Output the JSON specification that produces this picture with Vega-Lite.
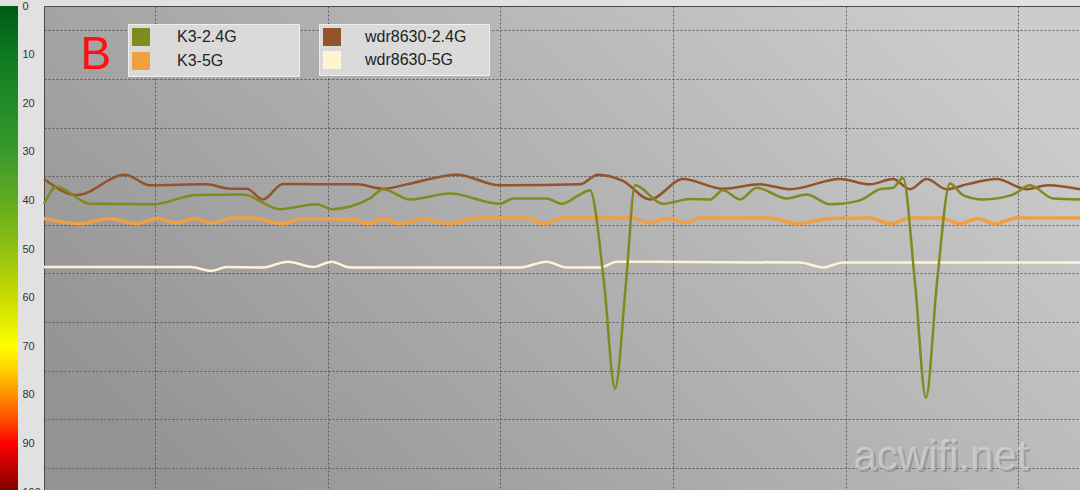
{
  "$schema": "https://vega.github.io/schema/vega-lite/v6.json",
  "background": "#e1e1e1",
  "padding": {"left": 0, "top": 0, "right": 0, "bottom": 0},
  "spacing": 26,
  "bounds": "flush",
  "datasets": {
    "bar": [{"lo": 0, "hi": 100}],
    "lines": [
      {"s": "K3-2.4G", "t": 0, "v": 40.7}, {"s": "K3-2.4G", "t": 7.4, "v": 37.2}, {"s": "K3-2.4G", "t": 26.6, "v": 40.7}, {"s": "K3-2.4G", "t": 63.1, "v": 40.8}, {"s": "K3-2.4G", "t": 88.4, "v": 38.9}, {"s": "K3-2.4G", "t": 115.2, "v": 38.8}, {"s": "K3-2.4G", "t": 136.7, "v": 41.8}, {"s": "K3-2.4G", "t": 157.9, "v": 40.8}, {"s": "K3-2.4G", "t": 166.6, "v": 41.8}, {"s": "K3-2.4G", "t": 188.8, "v": 39.6}, {"s": "K3-2.4G", "t": 196.3, "v": 37.7}, {"s": "K3-2.4G", "t": 212, "v": 39.8}, {"s": "K3-2.4G", "t": 235.1, "v": 38.6}, {"s": "K3-2.4G", "t": 264.1, "v": 40.7}, {"s": "K3-2.4G", "t": 271.6, "v": 39.6}, {"s": "K3-2.4G", "t": 291.1, "v": 39.6}, {"s": "K3-2.4G", "t": 299.8, "v": 40.7}, {"s": "K3-2.4G", "t": 310.4, "v": 38.8}, {"s": "K3-2.4G", "t": 316.2, "v": 37.9}, {"s": "K3-2.4G", "t": 324.3, "v": 56.8}, {"s": "K3-2.4G", "t": 330.7, "v": 78.7}, {"s": "K3-2.4G", "t": 337.1, "v": 56.8}, {"s": "K3-2.4G", "t": 342.3, "v": 36.9}, {"s": "K3-2.4G", "t": 358.5, "v": 40.7}, {"s": "K3-2.4G", "t": 374.1, "v": 39.7}, {"s": "K3-2.4G", "t": 385.7, "v": 39.8}, {"s": "K3-2.4G", "t": 393.2, "v": 37.9}, {"s": "K3-2.4G", "t": 403.1, "v": 39.8}, {"s": "K3-2.4G", "t": 412.8, "v": 37.4}, {"s": "K3-2.4G", "t": 430.1, "v": 39.6}, {"s": "K3-2.4G", "t": 441.7, "v": 38.8}, {"s": "K3-2.4G", "t": 455.2, "v": 40.8}, {"s": "K3-2.4G", "t": 472.6, "v": 40.0}, {"s": "K3-2.4G", "t": 484.2, "v": 37.7}, {"s": "K3-2.4G", "t": 491.7, "v": 37.4}, {"s": "K3-2.4G", "t": 497.5, "v": 35.4}, {"s": "K3-2.4G", "t": 504.4, "v": 56.8}, {"s": "K3-2.4G", "t": 510.8, "v": 80.6}, {"s": "K3-2.4G", "t": 517.2, "v": 56.8}, {"s": "K3-2.4G", "t": 524.7, "v": 36.5}, {"s": "K3-2.4G", "t": 532.2, "v": 38.9}, {"s": "K3-2.4G", "t": 543.8, "v": 39.8}, {"s": "K3-2.4G", "t": 561.2, "v": 38.8}, {"s": "K3-2.4G", "t": 571, "v": 36.9}, {"s": "K3-2.4G", "t": 584.4, "v": 39.6}, {"s": "K3-2.4G", "t": 600, "v": 39.8},
      {"s": "wdr8630-2.4G", "t": 0, "v": 35.6}, {"s": "wdr8630-2.4G", "t": 19.1, "v": 38.9}, {"s": "wdr8630-2.4G", "t": 46.9, "v": 34.7}, {"s": "wdr8630-2.4G", "t": 61.4, "v": 36.9}, {"s": "wdr8630-2.4G", "t": 94.2, "v": 36.7}, {"s": "wdr8630-2.4G", "t": 107.7, "v": 37.6}, {"s": "wdr8630-2.4G", "t": 117.4, "v": 37.6}, {"s": "wdr8630-2.4G", "t": 126.8, "v": 39.8}, {"s": "wdr8630-2.4G", "t": 138.4, "v": 36.6}, {"s": "wdr8630-2.4G", "t": 159.8, "v": 36.7}, {"s": "wdr8630-2.4G", "t": 181.3, "v": 36.7}, {"s": "wdr8630-2.4G", "t": 196.3, "v": 37.6}, {"s": "wdr8630-2.4G", "t": 210.1, "v": 36.7}, {"s": "wdr8630-2.4G", "t": 239, "v": 34.7}, {"s": "wdr8630-2.4G", "t": 264.1, "v": 36.9}, {"s": "wdr8630-2.4G", "t": 310.4, "v": 36.7}, {"s": "wdr8630-2.4G", "t": 320.8, "v": 34.7}, {"s": "wdr8630-2.4G", "t": 335.3, "v": 36.0}, {"s": "wdr8630-2.4G", "t": 351, "v": 39.8}, {"s": "wdr8630-2.4G", "t": 370.1, "v": 35.6}, {"s": "wdr8630-2.4G", "t": 393.2, "v": 37.6}, {"s": "wdr8630-2.4G", "t": 414.7, "v": 36.7}, {"s": "wdr8630-2.4G", "t": 432, "v": 37.7}, {"s": "wdr8630-2.4G", "t": 461, "v": 35.6}, {"s": "wdr8630-2.4G", "t": 478.4, "v": 36.7}, {"s": "wdr8630-2.4G", "t": 491.7, "v": 35.6}, {"s": "wdr8630-2.4G", "t": 501.6, "v": 37.7}, {"s": "wdr8630-2.4G", "t": 511.2, "v": 35.6}, {"s": "wdr8630-2.4G", "t": 522.8, "v": 37.7}, {"s": "wdr8630-2.4G", "t": 534.4, "v": 36.7}, {"s": "wdr8630-2.4G", "t": 551.7, "v": 35.6}, {"s": "wdr8630-2.4G", "t": 569.1, "v": 37.7}, {"s": "wdr8630-2.4G", "t": 581.5, "v": 36.9}, {"s": "wdr8630-2.4G", "t": 600, "v": 37.7},
      {"s": "K3-5G", "t": 0, "v": 43.7}, {"s": "K3-5G", "t": 20.8, "v": 44.8}, {"s": "K3-5G", "t": 38.2, "v": 43.7}, {"s": "K3-5G", "t": 53.7, "v": 44.8}, {"s": "K3-5G", "t": 65.3, "v": 43.7}, {"s": "K3-5G", "t": 76.9, "v": 44.6}, {"s": "K3-5G", "t": 87.4, "v": 43.7}, {"s": "K3-5G", "t": 97.1, "v": 44.6}, {"s": "K3-5G", "t": 109.5, "v": 43.6}, {"s": "K3-5G", "t": 123.2, "v": 43.7}, {"s": "K3-5G", "t": 137.7, "v": 44.8}, {"s": "K3-5G", "t": 150, "v": 43.7}, {"s": "K3-5G", "t": 179, "v": 43.9}, {"s": "K3-5G", "t": 187.6, "v": 44.8}, {"s": "K3-5G", "t": 196.3, "v": 43.7}, {"s": "K3-5G", "t": 206.2, "v": 44.8}, {"s": "K3-5G", "t": 219.5, "v": 43.7}, {"s": "K3-5G", "t": 235.1, "v": 44.8}, {"s": "K3-5G", "t": 250.6, "v": 43.6}, {"s": "K3-5G", "t": 279.6, "v": 43.6}, {"s": "K3-5G", "t": 290.2, "v": 44.8}, {"s": "K3-5G", "t": 299.8, "v": 43.6}, {"s": "K3-5G", "t": 341.1, "v": 43.6}, {"s": "K3-5G", "t": 351, "v": 44.6}, {"s": "K3-5G", "t": 360.6, "v": 43.7}, {"s": "K3-5G", "t": 372.2, "v": 44.6}, {"s": "K3-5G", "t": 379.9, "v": 43.6}, {"s": "K3-5G", "t": 420.5, "v": 43.6}, {"s": "K3-5G", "t": 435.9, "v": 44.8}, {"s": "K3-5G", "t": 455.2, "v": 43.7}, {"s": "K3-5G", "t": 478.4, "v": 43.6}, {"s": "K3-5G", "t": 489.9, "v": 44.8}, {"s": "K3-5G", "t": 501.6, "v": 43.6}, {"s": "K3-5G", "t": 518.9, "v": 43.6}, {"s": "K3-5G", "t": 530.5, "v": 44.8}, {"s": "K3-5G", "t": 540.9, "v": 43.7}, {"s": "K3-5G", "t": 550.8, "v": 44.8}, {"s": "K3-5G", "t": 563.3, "v": 43.6}, {"s": "K3-5G", "t": 600, "v": 43.6},
      {"s": "wdr8630-5G", "t": 0, "v": 53.7}, {"s": "wdr8630-5G", "t": 84.6, "v": 53.7}, {"s": "wdr8630-5G", "t": 97.1, "v": 54.5}, {"s": "wdr8630-5G", "t": 105.8, "v": 53.7}, {"s": "wdr8630-5G", "t": 126.8, "v": 53.8}, {"s": "wdr8630-5G", "t": 141.3, "v": 52.6}, {"s": "wdr8630-5G", "t": 155.8, "v": 53.7}, {"s": "wdr8630-5G", "t": 166.6, "v": 52.6}, {"s": "wdr8630-5G", "t": 177.2, "v": 53.8}, {"s": "wdr8630-5G", "t": 275.7, "v": 53.8}, {"s": "wdr8630-5G", "t": 291.1, "v": 52.6}, {"s": "wdr8630-5G", "t": 302.7, "v": 53.8}, {"s": "wdr8630-5G", "t": 322, "v": 53.8}, {"s": "wdr8630-5G", "t": 331.7, "v": 52.6}, {"s": "wdr8630-5G", "t": 437.8, "v": 52.8}, {"s": "wdr8630-5G", "t": 451.2, "v": 53.8}, {"s": "wdr8630-5G", "t": 462.7, "v": 52.8}, {"s": "wdr8630-5G", "t": 600, "v": 52.8}
    ],
    "labels": [{"label": "B"}],
    "mark": [{"label": "acwifi.net"}]
  },
  "hconcat": [
    {
      "width": 18,
      "height": 486,
      "view": {"stroke": null},
      "data": {"name": "bar"},
      "mark": {
        "type": "rect",
        "color": {
          "gradient": "linear", "x1": 0, "y1": 0, "x2": 0, "y2": 1,
          "stops": [
            {"offset": 0, "color": "#005a14"},
            {"offset": 0.1, "color": "#0e7a20"},
            {"offset": 0.2, "color": "#228b26"},
            {"offset": 0.3, "color": "#3a9a2a"},
            {"offset": 0.4, "color": "#62ab20"},
            {"offset": 0.5, "color": "#90c010"},
            {"offset": 0.6, "color": "#c8dc00"},
            {"offset": 0.7, "color": "#ffff00"},
            {"offset": 0.75, "color": "#ffd000"},
            {"offset": 0.8, "color": "#ff9000"},
            {"offset": 0.85, "color": "#ff5000"},
            {"offset": 0.9, "color": "#ff0000"},
            {"offset": 0.95, "color": "#c00000"},
            {"offset": 1, "color": "#780000"}
          ]
        }
      },
      "encoding": {
        "x": {"datum": 0, "type": "quantitative", "scale": {"domain": [0, 1]}, "axis": null},
        "x2": {"datum": 1},
        "y": {
          "field": "lo", "type": "quantitative",
          "scale": {"domain": [0, 100], "reverse": true, "nice": false, "zero": false},
          "axis": {
            "orient": "right", "values": [0, 10, 20, 30, 40, 50, 60, 70, 80, 90, 100],
            "domain": false, "ticks": false, "grid": false, "title": null,
            "labelPadding": 4, "labelFontSize": 11, "labelFont": "Liberation Sans",
            "labelColor": "#333333", "labelFlush": false, "labelOverlap": false
          }
        },
        "y2": {"field": "hi"}
      }
    },
    {
      "width": 1036,
      "height": 486,
      "view": {
        "stroke": "#4a4a4a",
        "fill": {
          "gradient": "linear", "x1": 0, "y1": 0.75, "x2": 1, "y2": 0.25,
          "stops": [
            {"offset": 0, "color": "#939393"},
            {"offset": 1, "color": "#cccccc"}
          ]
        }
      },
      "data": {"name": "lines"},
      "layer": [
        {
          "layer": [
            {
              "transform": [{"filter": "datum.s === 'wdr8630-5G' || datum.s === 'wdr8630-2.4G'"}],
              "mark": {"type": "square"},
              "encoding": {
                "x": {"field": "t", "type": "quantitative", "scale": {"domain": [0, 600], "nice": false, "zero": false},
                  "axis": {"values": [64.3, 164.3, 264.3, 364.3, 464.3, 564.3], "grid": true, "gridColor": "#4a4a4a", "gridDash": [2, 2], "gridOpacity": 0.8, "labels": false, "ticks": false, "domain": false, "title": null}},
                "y": {"field": "v", "type": "quantitative", "scale": {"domain": [0, 100], "reverse": true, "nice": false, "zero": false},
                  "axis": {"values": [5, 10, 15, 20, 25, 30, 35, 40, 45, 50, 55, 60, 65, 70, 75, 80, 85, 90, 95], "grid": true, "gridColor": "#4a4a4a", "gridDash": [2, 2], "gridOpacity": 0.8, "labels": false, "ticks": false, "domain": false, "title": null}},
                "color": {"field": "s", "type": "nominal", "scale": {"domain": ["wdr8630-2.4G", "wdr8630-5G"], "range": ["#92532d", "#fff3d2"]},
                  "legend": {"orient": "none", "legendX": 275, "legendY": 18, "title": null, "symbolType": "square", "symbolSize": 289, "symbolStrokeWidth": 1, "symbolStrokeColor": "#8a8a8a", "symbolOpacity": 1, "padding": 4, "rowPadding": 1, "labelOffset": 24, "labelFontSize": 16, "labelFont": "Liberation Sans", "labelColor": "#222222", "fillColor": "#dadada", "strokeColor": "#eeeeee", "labelExpr": "datum.label + '\u00a0\u00a0\u00a0\u00a0\u200b'"}},
                "opacity": {"value": 0}
              }
            },
            {
              "transform": [{"filter": "datum.s === 'wdr8630-5G'"}],
              "mark": {"type": "line", "interpolate": "monotone"},
              "encoding": {
                "x": {"field": "t", "type": "quantitative"},
                "y": {"field": "v", "type": "quantitative"},
                "color": {"field": "s", "type": "nominal", "scale": {"domain": ["wdr8630-2.4G", "wdr8630-5G"], "range": ["#92532d", "#fff3d2"]}},
                "strokeWidth": {"value": 2.5}
              }
            },
            {
              "transform": [{"filter": "datum.s === 'wdr8630-2.4G'"}],
              "mark": {"type": "line", "interpolate": "monotone"},
              "encoding": {
                "x": {"field": "t", "type": "quantitative"},
                "y": {"field": "v", "type": "quantitative"},
                "color": {"field": "s", "type": "nominal", "scale": {"domain": ["wdr8630-2.4G", "wdr8630-5G"], "range": ["#92532d", "#fff3d2"]}},
                "strokeWidth": {"value": 2.5}
              }
            }
          ]
        },
        {
          "layer": [
            {
              "transform": [{"filter": "datum.s === 'K3-5G' || datum.s === 'K3-2.4G'"}],
              "mark": {"type": "square"},
              "encoding": {
                "x": {"field": "t", "type": "quantitative"},
                "y": {"field": "v", "type": "quantitative"},
                "color": {"field": "s", "type": "nominal", "scale": {"domain": ["K3-2.4G", "K3-5G"], "range": ["#7f8b1e", "#f0a040"]},
                  "legend": {"orient": "none", "legendX": 84, "legendY": 18, "title": null, "symbolType": "square", "symbolSize": 289, "symbolStrokeWidth": 1, "symbolStrokeColor": "#8a8a8a", "symbolOpacity": 1, "padding": 4, "rowPadding": 2, "labelOffset": 27, "labelFontSize": 16, "labelFont": "Liberation Sans", "labelColor": "#222222", "fillColor": "#dadada", "strokeColor": "#eeeeee", "labelExpr": "datum.label + '\u00a0\u00a0\u00a0\u00a0\u00a0\u00a0\u00a0\u00a0\u00a0\u00a0\u00a0\u00a0\u00a0\u200b'"}},
                "opacity": {"value": 0}
              }
            },
            {
              "transform": [{"filter": "datum.s === 'K3-5G'"}],
              "mark": {"type": "line", "interpolate": "monotone"},
              "encoding": {
                "x": {"field": "t", "type": "quantitative"},
                "y": {"field": "v", "type": "quantitative"},
                "color": {"field": "s", "type": "nominal", "scale": {"domain": ["K3-2.4G", "K3-5G"], "range": ["#7f8b1e", "#f0a040"]}},
                "strokeWidth": {"value": 3.5}
              }
            },
            {
              "transform": [{"filter": "datum.s === 'K3-2.4G'"}],
              "mark": {"type": "line", "interpolate": "monotone"},
              "encoding": {
                "x": {"field": "t", "type": "quantitative"},
                "y": {"field": "v", "type": "quantitative"},
                "color": {"field": "s", "type": "nominal", "scale": {"domain": ["K3-2.4G", "K3-5G"], "range": ["#7f8b1e", "#f0a040"]}},
                "strokeWidth": {"value": 2.5}
              }
            }
          ]
        },
        {
          "data": {"name": "labels"},
          "mark": {"type": "text", "font": "Liberation Sans", "fontSize": 46, "color": "#ff1010", "align": "center", "baseline": "middle"},
          "encoding": {
            "x": {"datum": 30, "type": "quantitative"},
            "y": {"datum": 10, "type": "quantitative"},
            "text": {"field": "label"}
          }
        },
        {
          "data": {"name": "mark"},
          "mark": {"type": "text", "font": "Liberation Sans", "fontSize": 42, "color": "#707070", "opacity": 0.4, "align": "center", "baseline": "alphabetic", "dx": 2, "dy": 2},
          "encoding": {
            "x": {"datum": 519.5, "type": "quantitative"},
            "y": {"datum": 95.4, "type": "quantitative"},
            "text": {"field": "label"}
          }
        },
        {
          "data": {"name": "mark"},
          "mark": {"type": "text", "font": "Liberation Sans", "fontSize": 42, "color": "#d8d8d8", "opacity": 0.65, "align": "center", "baseline": "alphabetic"},
          "encoding": {
            "x": {"datum": 519.5, "type": "quantitative"},
            "y": {"datum": 95.4, "type": "quantitative"},
            "text": {"field": "label"}
          }
        }
      ],
      "resolve": {"scale": {"color": "independent"}}
    }
  ]
}
